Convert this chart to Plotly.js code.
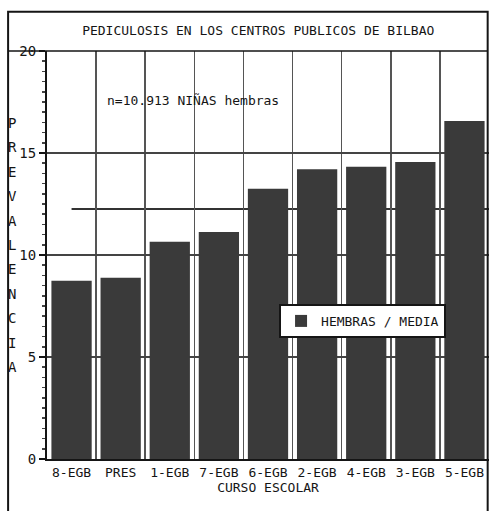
<!DOCTYPE html>
<html>
<head>
<meta charset="utf-8">
<script src="https://cdn.plot.ly/plotly-3.0.1.min.js"></script>
<style>html,body{margin:0;padding:0;background:#fff}#chart{width:490px;height:511px}</style>
</head>
<body>
<div id="chart"></div>
<script>
const categories = ["8-EGB","PRES","1-EGB","7-EGB","6-EGB","2-EGB","4-EGB","3-EGB","5-EGB"];
const prevalencia = [8.74, 8.88, 10.65, 11.13, 13.25, 14.2, 14.33, 14.56, 16.57];
const media = 12.25;
const yTicks = [0, 5, 10, 15, 20];
const titleText = "PEDICULOSIS EN LOS CENTROS PUBLICOS DE BILBAO";
const noteText = "n=10.913 NIÑAS hembras";
const xTitle = "CURSO ESCOLAR";
const yTitle = "PREVALENCIA";
const legendName = "HEMBRAS / MEDIA";

const FONT = "DejaVu Sans Mono, Liberation Mono, monospace";
const INK = "#151515";
const idx = categories.map((_, i) => i);

const traces = [{
  type: "bar",
  x: idx,
  y: prevalencia,
  name: legendName,
  marker: {color: "#3a3a3a", line: {width: 0}},
  showlegend: true
}];

const yLetters = yTitle.split("").map((c, i) => ({
  text: c, xref: "paper", yref: "paper",
  x: -0.079, y: (459 - 123 - i * 24.4) / 408,
  showarrow: false, font: {family: FONT, size: 14, color: INK},
  xanchor: "center", yanchor: "middle"
}));

const layout = {
  width: 490, height: 511,
  margin: {l: 47, r: 1, t: 51, b: 52},
  paper_bgcolor: "#fff", plot_bgcolor: "#fff",
  font: {family: FONT, size: 13, color: INK},
  title: {text: titleText, xref: "container", yref: "container", x: 0.527, y: 0.94,
          xanchor: "center", yanchor: "middle", font: {family: FONT, size: 13, color: INK}},
  bargap: 0.18,
  xaxis: {
    range: [-0.5, 8.5], tickmode: "array", tickvals: idx, ticktext: categories,
    showgrid: false, zeroline: false, showline: true, linecolor: INK, linewidth: 2,
    ticks: "", tickfont: {family: FONT, size: 13, color: INK},
    minor: {tickmode: "linear", tick0: 0.5, dtick: 1, showgrid: true, gridcolor: "#555", gridwidth: 1.5, ticks: ""},
    title: {text: xTitle, standoff: 2, font: {family: FONT, size: 13, color: INK}},
    fixedrange: true
  },
  yaxis: {
    range: [0, 20], tickmode: "array", tickvals: yTicks, ticktext: yTicks.map(String),
    showgrid: true, gridcolor: "#444", gridwidth: 1.5, zeroline: false,
    showline: true, linecolor: INK, linewidth: 2,
    ticks: "outside", ticklen: 6, tickcolor: INK, tickwidth: 1.5,
    minor: {tickmode: "linear", tick0: 0, dtick: 0.5, ticks: "outside", ticklen: 3, tickcolor: "#444", showgrid: false},
    tickfont: {family: FONT, size: 14, color: INK},
    fixedrange: true
  },
  showlegend: true,
  legend: {
    x: 0.525, y: 0.38, xanchor: "left", yanchor: "top",
    bgcolor: "#fff", bordercolor: INK, borderwidth: 2,
    font: {family: FONT, size: 13, color: INK},
    itemwidth: 30,
    itemsizing: "constant"
  },
  shapes: [
    {type: "line", layer: "below", xref: "x", yref: "y", x0: 0, x1: 8.5, y0: media, y1: media,
     line: {color: "#333", width: 2}},
    {type: "rect", xref: "paper", yref: "paper", x0: -0.088, x1: 0.997, y0: -0.13, y1: 1.096,
     line: {color: INK, width: 2}, fillcolor: "rgba(0,0,0,0)"},
    {type: "line", xref: "paper", yref: "paper", x0: -0.088, x1: 0.997, y0: 1.0, y1: 1.0,
     line: {color: INK, width: 1.5}}
  ],
  annotations: [
    {text: noteText, xref: "x", yref: "paper", x: 2.48, y: (459 - 100) / 408,
     showarrow: false, font: {family: FONT, size: 13, color: INK}, xanchor: "center", yanchor: "middle"}
  ].concat(yLetters)
};

Plotly.newPlot("chart", traces, layout, {displayModeBar: false, staticPlot: true});
</script>
</body>
</html>
